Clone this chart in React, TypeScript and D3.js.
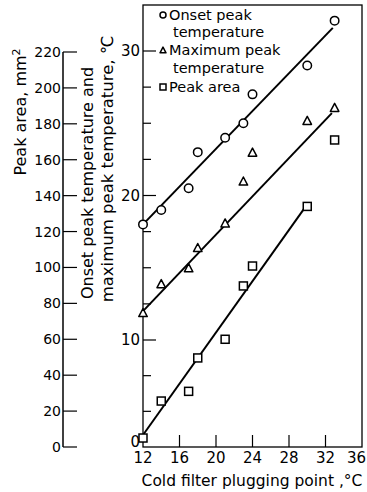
import React from 'react';
import * as d3 from 'd3';

// Cold filter plugging point (°C) of the samples
const cfpp = [12, 14, 17, 18, 21, 23, 24, 30, 33];
// Onset peak temperature (°C)
const onsetTemp = [18.0, 19.0, 20.5, 23.0, 24.0, 25.0, 27.0, 29.0, 32.1];
// Maximum peak temperature (°C)
const maxTemp = [11.9, 13.9, 15.0, 16.4, 18.1, 21.0, 23.0, 25.2, 26.1];
// Peak area (mm²)
const peakArea = [5, 25.6, 31, 49.6, 60, 89.7, 100.8, 134, 171];

// Fitted lines [x, y] end points
const onsetFit: [number, number][] = [[12, 18.0], [32.8, 31.6]];
const maxFit: [number, number][] = [[12, 12.0], [32.7, 25.7]];
const areaFit: [number, number][] = [[12, 6.7], [29.7, 133]];

// Tick values
const xTicks = [12, 16, 20, 24, 28, 32, 36];
const areaTicks = [0, 20, 40, 60, 80, 100, 120, 140, 160, 180, 200, 220];
const tempMajorTicks = [0, 10, 20, 30];
const tempMinorTicks = [10 / 3, 20 / 3, 12.5, 15, 17.5, 22.5, 25, 27.5];

const legendItems = [
  { symbol: 'circle', lines: ['Onset peak', 'temperature'] },
  { symbol: 'triangle', lines: ['Maximum peak', 'temperature'] },
  { symbol: 'square', lines: ['Peak area'] },
];

const W = 367;
const H = 492;
const plot = { left: 143, right: 362, top: 5, bottom: 447 };
const areaAxisX = 63;
const areaTop = 52;
const FONT = "'DejaVu Sans', sans-serif";
const legendBaselines = [20, 37, 55, 73, 92];

const x = d3.scaleLinear().domain([12, 36]).range([plot.left, plot.right]);
const yTemp = d3.scaleLinear().domain([0, 10, 30]).range([plot.bottom, 340, 51]);
const yArea = d3.scaleLinear().domain([0, 220]).range([plot.bottom, areaTop]);

function Marker({ type, cx, cy, s }: { type: string; cx: number; cy: number; s: number }) {
  const sw = 1.5;
  if (type === 'circle') return <circle cx={cx} cy={cy} r={s / 2} fill="white" stroke="black" strokeWidth={sw} />;
  if (type === 'square')
    return <rect x={cx - s / 2} y={cy - s / 2} width={s} height={s} fill="white" stroke="black" strokeWidth={sw} />;
  const h = s * 0.95;
  const p = `M${cx},${cy - h / 2}L${cx + s / 2},${cy + h / 2}L${cx - s / 2},${cy + h / 2}Z`;
  return <path d={p} fill="white" stroke="black" strokeWidth={sw} strokeLinejoin="round" />;
}

export default function App() {
  const tempLine = d3.line<[number, number]>().x((d) => x(d[0])).y((d) => yTemp(d[1]));
  const areaLine = d3.line<[number, number]>().x((d) => x(d[0])).y((d) => yArea(d[1]));

  let row = 0;
  const legendRows: JSX.Element[] = [];
  legendItems.forEach((it, i) => {
    const base = legendBaselines[row];
    legendRows.push(
      <g key={'lg' + i}>
        <Marker type={it.symbol} cx={163} cy={base - 5} s={6} />
        {it.lines.map((ln, j) => (
          <text key={j} x={j === 0 ? 169 : 173} y={legendBaselines[row + j]} fontSize={14.5} fontFamily={FONT}>
            {ln}
          </text>
        ))}
      </g>
    );
    row += it.lines.length;
  });

  return (
    <svg width={W} height={H} style={{ position: 'absolute', left: 0, top: 0, background: 'white' }}>
      <rect x={0} y={0} width={W} height={H} fill="white" />
      {/* Peak area axis */}
      <line x1={areaAxisX} x2={areaAxisX} y1={yArea(220)} y2={yArea(0)} stroke="black" strokeWidth={1.5} />
      {areaTicks.map((t) => (
        <g key={'a' + t}>
          <line x1={areaAxisX} x2={areaAxisX + 14} y1={yArea(t)} y2={yArea(t)} stroke="black" strokeWidth={1.2} />
          <text x={areaAxisX - 2} y={yArea(t)} dy="0.36em" textAnchor="end" fontSize={14} fontFamily={FONT}>
            {t}
          </text>
        </g>
      ))}
      <text transform={`translate(20,112) rotate(-90)`} textAnchor="middle" dy="0.36em" fontSize={16} fontFamily={FONT}>
        Peak area, mm<tspan dy="-0.5em" fontSize={11}>2</tspan>
      </text>
      <text transform={`translate(87,183) rotate(-90)`} textAnchor="middle" dy="0.36em" fontSize={16} fontFamily={FONT}>
        Onset peak temperature and
      </text>
      <text transform={`translate(107,169) rotate(-90)`} textAnchor="middle" dy="0.36em" fontSize={16.5} fontFamily={FONT}>
        maximum peak temperature, ℃
      </text>

      {/* Frame */}
      <rect x={plot.left} y={plot.top} width={plot.right - plot.left} height={plot.bottom - plot.top} fill="none" stroke="black" strokeWidth={1.3} />

      {/* Temperature axis ticks */}
      {tempMajorTicks.map((t) => (
        <g key={'tm' + t}>
          {t > 0 && <line x1={plot.left} x2={plot.left + 13} y1={yTemp(t)} y2={yTemp(t)} stroke="black" strokeWidth={1.2} />}
          <text x={plot.left - 3} y={yTemp(t) - (t === 0 ? 5 : 0)} dy="0.36em" textAnchor="end" fontSize={15} fontFamily={FONT}>
            {t}
          </text>
        </g>
      ))}
      {tempMinorTicks.map((t) => (
        <line key={'tn' + t} x1={plot.left} x2={plot.left + 8} y1={yTemp(t)} y2={yTemp(t)} stroke="black" strokeWidth={1.2} />
      ))}

      {/* X axis */}
      {xTicks.map((t) => (
        <g key={'x' + t}>
          {t > 12 && t < 36 && <line x1={x(t)} x2={x(t)} y1={plot.bottom} y2={plot.bottom - 12} stroke="black" strokeWidth={1.2} />}
          <text
            x={t === 36 ? W - 1 : x(t)}
            y={458}
            dy="0.36em"
            textAnchor={t === 36 ? 'end' : 'middle'}
            fontSize={15}
            fontFamily={FONT}
          >
            {t}
          </text>
        </g>
      ))}
      <text x={252} y={480} dy="0.36em" textAnchor="middle" fontSize={15.5} fontFamily={FONT}>
        Cold filter plugging point ,°C
      </text>

      {/* Fit lines */}
      <path d={tempLine(onsetFit) || ''} stroke="black" strokeWidth={2} fill="none" />
      <path d={tempLine(maxFit) || ''} stroke="black" strokeWidth={2} fill="none" />
      <path d={areaLine(areaFit) || ''} stroke="black" strokeWidth={2} fill="none" />

      {/* Points */}
      {cfpp.map((c, i) => (
        <g key={'p' + i}>
          <Marker type="circle" cx={x(c)} cy={yTemp(onsetTemp[i])} s={8.5} />
          <Marker type="triangle" cx={x(c)} cy={yTemp(maxTemp[i])} s={8.5} />
          <Marker type="square" cx={x(c)} cy={yArea(peakArea[i])} s={8} />
        </g>
      ))}

      {legendRows}
    </svg>
  );
}
